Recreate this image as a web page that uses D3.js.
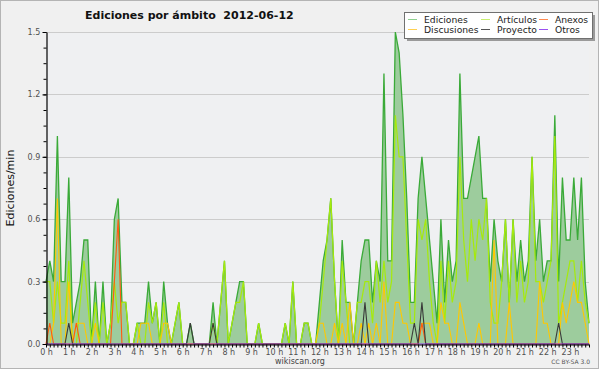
<!DOCTYPE html>
<html>
<head>
<meta charset="utf-8">
<script src="https://d3js.org/d3.v7.min.js"></script>
<style>
  body { margin: 0; background: #fff; }
  svg text { font-family: "DejaVu Sans", sans-serif; }
</style>
</head>
<body>
<div id="chart"></div>
<script>
// 10-minute buckets, one row per hour (edits per minute)
const ediciones = [
  0.3,0.4,0.3,1.0,0.3,0.3,
  0.8,0.1,0.2,0.3,0.5,0.5,
  0,0.3,0,0.3,0,0.1,
  0.6,0.7,0.2,0.2,0,0,
  0.1,0.1,0.1,0.3,0.1,0.2,
  0,0.3,0.1,0,0.1,0.2,
  0,0,0.1,0,0,0,
  0,0,0.2,0,0.2,0.4,
  0,0.1,0.2,0.3,0.3,0,
  0,0,0.1,0,0,0,
  0,0,0,0.1,0,0.3,
  0,0,0.1,0.1,0,0,
  0.2,0.4,0.5,0.7,0.3,0,
  0.5,0.2,0.2,0,0.2,0.4,
  0.5,0.5,0.2,0.4,0.3,1.3,
  0.4,0.4,1.5,1.4,1.1,0.7,
  0.2,0.2,0.7,0.9,0.7,0.5,
  0.3,0.1,0.6,0.2,0.5,0.3,
  0.4,1.3,0.7,0.7,0.8,0.9,
  1.0,0.7,0.7,0.3,0.6,0.4,
  0.3,0.6,0.2,0.6,0.3,0.5,
  0.3,0.4,0.9,0.4,0.6,0.3,
  0.4,0.4,1.1,0.3,0.8,0.5,
  0.5,0.8,0.5,0.8,0.3,0.1
];
const articulos = [
  0.3,0.3,0.1,0.3,0.1,0.1,
  0.4,0,0,0.2,0.4,0.2,
  0,0.2,0,0.2,0,0.1,
  0.3,0.1,0.2,0.2,0,0,
  0.1,0,0,0.2,0.1,0.2,
  0,0.2,0,0,0.1,0.2,
  0,0,0,0,0,0,
  0,0,0.1,0,0.2,0.4,
  0,0.1,0.2,0.2,0.3,0,
  0,0,0.1,0,0,0,
  0,0,0,0.1,0,0.3,
  0,0,0.1,0.1,0,0,
  0.1,0.3,0.5,0.7,0.3,0,
  0.4,0.2,0,0,0.2,0.2,
  0.3,0.3,0.1,0.4,0.2,0.4,
  0.2,0.3,1.1,0.9,0.9,0.5,
  0.1,0.1,0.6,0.5,0.6,0.3,
  0.1,0,0.4,0.1,0.4,0.2,
  0.3,0.9,0.5,0.3,0.6,0.4,
  0.6,0.5,0.7,0.2,0.1,0.1,
  0.3,0.6,0.2,0.6,0.2,0.4,
  0.2,0.3,0.9,0.3,0.3,0.2,
  0.3,0.4,1.0,0.1,0.2,0.3,
  0.4,0.4,0.2,0.4,0.2,0.1
];
const discusiones = [
  0,0,0.1,0.7,0,0,
  0.3,0,0.1,0.1,0.1,0,
  0,0.1,0,0,0,0,
  0,0,0,0,0,0,
  0,0.1,0.1,0.1,0,0,
  0,0.1,0.1,0,0,0,
  0,0,0,0,0,0,
  0,0,0,0,0,0,
  0,0,0,0,0,0,
  0,0,0,0,0,0,
  0,0,0,0,0,0,
  0,0,0,0,0,0,
  0.1,0.1,0,0,0.1,0,
  0.1,0,0.2,0,0,0.1,
  0,0.1,0,0.1,0,0.3,
  0,0,0.2,0.2,0.1,0.1,
  0,0,0,0.1,0.1,0.1,
  0,0,0.2,0.1,0.1,0,
  0,0.2,0.1,0,0,0,
  0.1,0,0,0,0.5,0,
  0,0,0.2,0,0,0,
  0,0,0,0,0.3,0.1,
  0.1,0,0,0,0.2,0.1,
  0.2,0.3,0.2,0.2,0.1,0
];
const proyecto = [
  0,0,0,0,0,0,
  0.1,0,0,0,0,0,
  0,0,0,0,0,0,
  0,0,0,0,0,0,
  0,0,0,0,0,0,
  0,0,0,0,0,0,
  0,0,0.1,0,0,0,
  0,0,0.1,0,0,0,
  0,0,0,0,0,0,
  0,0,0,0,0,0,
  0,0,0,0,0,0,
  0,0,0,0,0,0,
  0,0,0,0,0,0,
  0,0,0,0,0,0,
  0.2,0,0,0,0,0,
  0,0,0,0,0,0,
  0,0.1,0,0.2,0,0,
  0,0,0,0,0,0,
  0,0,0,0,0,0,
  0,0,0,0,0,0,
  0,0,0,0,0,0,
  0,0,0,0,0,0,
  0,0,0,0.1,0,0,
  0,0,0,0,0,0
];
const anexos = [
  0,0.1,0,0,0,0,
  0,0,0.1,0,0,0,
  0,0,0,0,0,0,
  0.3,0.6,0,0,0,0,
  0,0,0,0,0,0,
  0,0,0,0,0,0,
  0,0,0,0,0,0,
  0,0,0,0,0,0,
  0,0,0,0,0,0,
  0,0,0,0,0,0,
  0,0,0,0,0,0,
  0,0,0,0,0,0,
  0,0,0,0,0,0,
  0,0,0,0,0,0,
  0,0,0,0,0,0,
  0,0,0,0,0,0,
  0,0,0,0.1,0,0,
  0,0,0,0,0,0,
  0,0,0,0,0,0,
  0,0,0,0,0,0,
  0,0,0,0,0,0,
  0,0,0,0,0,0,
  0,0,0,0,0,0,
  0,0,0,0,0,0
];
const otros = [
  0,0,0,0,0,0, 0,0,0,0,0,0, 0,0,0,0,0,0, 0,0,0,0,0,0,
  0,0,0,0,0,0, 0,0,0,0,0,0, 0,0,0,0,0,0, 0,0,0,0,0,0,
  0,0,0,0,0,0, 0,0,0,0,0,0, 0,0,0,0,0,0, 0,0,0,0,0,0,
  0,0,0,0,0,0, 0,0,0,0,0,0, 0,0,0,0,0,0, 0,0,0,0,0,0,
  0,0,0,0,0,0, 0,0,0,0,0,0, 0,0,0,0,0,0, 0,0,0,0,0,0,
  0,0,0,0,0,0, 0,0,0,0,0,0, 0,0,0,0,0,0, 0,0,0,0,0,0
];
const yTicks = [0, 0.3, 0.6, 0.9, 1.2, 1.5];
const hourLabels = ["0 h","1 h","2 h","3 h","4 h","5 h","6 h","7 h","8 h","9 h","10 h","11 h",
                    "12 h","13 h","14 h","15 h","16 h","17 h","18 h","19 h","20 h","21 h","22 h","23 h"];

const series = [
  { name: "Ediciones",   values: ediciones,   color: "#3aaa38", legend: "#8fd08f", width: 1.3 },
  { name: "Artículos",   values: articulos,   color: "#a6ea0c", legend: "#c8ee70", width: 1.2 },
  { name: "Discusiones", values: discusiones, color: "#ffc800", legend: "#ffd050", width: 1.1 },
  { name: "Anexos",      values: anexos,      color: "#ff5a10", legend: "#ff8a50", width: 1.1 },
  { name: "Proyecto",    values: proyecto,    color: "#3a3a3a", legend: "#555555", width: 1.1 },
  { name: "Otros",       values: otros,       color: "#9040f0", legend: "#9a50f0", width: 1.1 }
];

const W = 600, H = 370;
const x = d3.scaleLinear().domain([0, 143]).range([46, 589]);
const y = d3.scaleLinear().domain([0, 1.5]).range([344, 32]);

const svg = d3.select("#chart").append("svg")
    .attr("width", W).attr("height", H);

svg.append("rect").attr("x", 0.5).attr("y", 0.5).attr("width", 598).attr("height", 368)
    .attr("fill", "#f0f0f0").attr("stroke", "#b4b4b4");
svg.append("rect").attr("x", 46).attr("y", 32).attr("width", 543).attr("height", 312)
    .attr("fill", "#eff0f2");

// grid
svg.append("g").selectAll("line").data(yTicks.slice(1)).enter().append("line")
    .attr("x1", 46).attr("x2", 589)
    .attr("y1", d => Math.round(y(d)) + 0.5).attr("y2", d => Math.round(y(d)) + 0.5)
    .attr("stroke", "#cccccc");

// area
const area = d3.area().x((d, i) => x(i)).y0(y(0)).y1(d => y(d));
svg.append("path").datum(ediciones).attr("d", area).attr("fill", "#9dcc9d");

// lines
const line = d3.line().x((d, i) => x(i)).y(d => y(d));
series.forEach(s => {
  svg.append("path").datum(s.values).attr("d", line)
      .attr("fill", "none").attr("stroke", s.color).attr("stroke-width", s.width)
      .attr("stroke-linejoin", "miter");
});

// axes
const yAxisMinor = d3.axisLeft(y).tickValues(d3.range(0, 1.5001, 0.075)).tickSize(3).tickFormat("").tickSizeOuter(0);
svg.append("g").attr("transform", "translate(46.5,0)").call(yAxisMinor)
    .call(g => g.select(".domain").remove());
const yAxis = d3.axisLeft(y).tickValues(yTicks).tickSize(4).tickFormat(d3.format(".1f")).tickSizeOuter(0);
svg.append("g").attr("transform", "translate(46.5,0)").call(yAxis)
    .call(g => g.selectAll("text").attr("font-size", 8).attr("fill", "#505050").attr("dx", "0.1em"))
    .call(g => g.select(".domain").attr("stroke-width", 1.2));

const xAxis = d3.axisBottom(x).tickValues(d3.range(0, 144)).tickSize(3).tickSizeOuter(0)
    .tickFormat(i => i % 6 === 0 ? hourLabels[i / 6] : "");
svg.append("g").attr("transform", "translate(0,344.5)").call(xAxis)
    .call(g => g.selectAll("text").attr("font-size", 8).attr("fill", "#505050").attr("dy", "0.55em"))
    .call(g => g.select(".domain").attr("stroke-width", 1.2));

// title
svg.append("text").attr("x", 85).attr("y", 18.5)
    .style("white-space", "pre")
    .attr("font-size", 11).attr("font-weight", "bold").attr("fill", "#111")
    .text("Ediciones por ámbito  2012-06-12");

// y label
svg.append("text").attr("transform", "translate(14,188) rotate(-90)")
    .attr("text-anchor", "middle").attr("font-size", 11).attr("fill", "#111")
    .text("Ediciones/min");

// legend
const lg = svg.append("g");
lg.append("rect").attr("x", 407).attr("y", 15).attr("width", 188).attr("height", 26).attr("fill", "#9a9a9a");
lg.append("rect").attr("x", 404.5).attr("y", 12.5).attr("width", 188).attr("height", 26)
    .attr("fill", "#ffffff").attr("stroke", "#707070");
const legendOrder = ["Ediciones", "Artículos", "Anexos", "Discusiones", "Proyecto", "Otros"];
const colX = [408, 481, 539];
const rowY = [19.5, 29.5];
legendOrder.forEach((name, k) => {
  const s = series.find(d => d.name === name);
  const cx = colX[k % 3], cy = rowY[Math.floor(k / 3)];
  lg.append("line").attr("x1", cx).attr("x2", cx + 9).attr("y1", cy).attr("y2", cy)
      .attr("stroke", s.legend).attr("stroke-width", 1);
  lg.append("text").attr("x", cx + 16).attr("y", cy + 3.3)
      .attr("font-size", 9.2).attr("fill", "#222").text(name);
});

// footer
svg.append("text").attr("x", 300).attr("y", 364).attr("text-anchor", "middle")
    .attr("font-size", 8).attr("fill", "#444").text("wikiscan.org");
svg.append("text").attr("x", 590).attr("y", 364).attr("text-anchor", "end")
    .attr("font-size", 6).attr("fill", "#555").text("CC BY-SA 3.0");
</script>
</body>
</html>
